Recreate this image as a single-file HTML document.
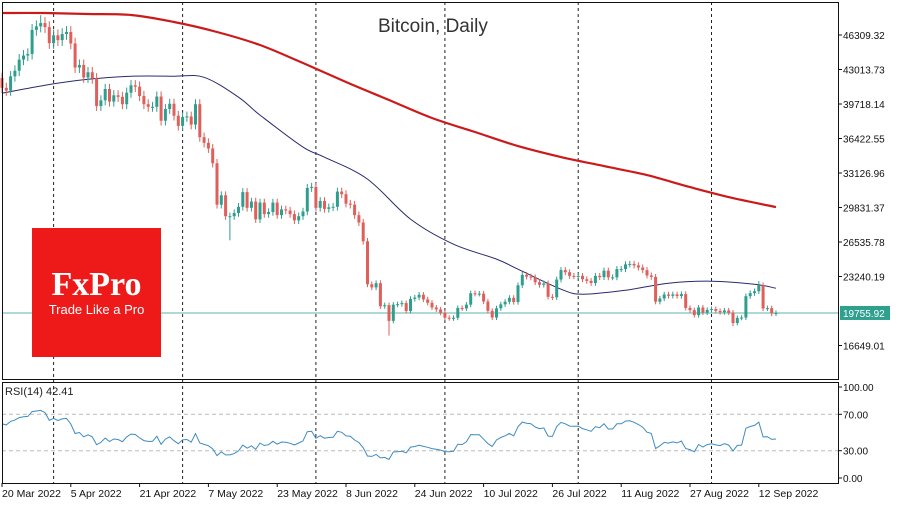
<!DOCTYPE html>
<html><head><meta charset="utf-8"><style>
body{margin:0;background:#fff;}
svg{display:block;font-family:"Liberation Sans",sans-serif;}
</style></head><body>
<svg id="c" width="900" height="506" viewBox="0 0 900 506">
  <rect x="0" y="0" width="900" height="506" fill="#fff"/>
  <g id="grid"></g>
  <g id="ma"></g>
  <g id="candles"></g>
  <g id="rsi"></g>
  <g id="axes"></g>
  <text x="378" y="32" font-size="19" fill="#333">Bitcoin, Daily</text>
  <g>
    <rect x="32" y="228" width="129" height="129" fill="#ee1a1a"/>
    <text x="96.5" y="295" text-anchor="middle" font-family="Liberation Serif,serif" font-weight="bold" font-size="34" fill="#fff">FxPro</text>
    <text x="96.5" y="314" text-anchor="middle" font-size="13" fill="#fff">Trade Like a Pro</text>
  </g>
  <text x="5" y="395" font-size="11" fill="#222">RSI(14) 42.41</text>
</svg>
<script>
// prior closes for RSI warm-up (Mar 6 - Mar 19)
const priorCloses=[38400,37990,38730,41940,39420,38730,38810,37780,39670,39280,41110,40920,41760,42200];
// daily closes 20 Mar 2022 .. 16 Sep 2022
const closes=[41260,41000,42360,42900,43960,44350,44500,46800,47130,47450,47060,45530,
46280,45820,46400,46600,45500,43200,43450,42250,42750,42160,39530,40070,41150,39950,40550,40400,39700,40800,41500,41370,40480,39700,39450,39450,40430,38120,39240,39740,38600,37630,
38470,38530,37750,39700,36550,36010,35470,34060,30100,31000,29000,29000,29300,29900,31300,29800,30400,28700,30300,29200,29400,30300,29100,29650,29540,29200,28600,29000,29450,31700,31800,
29800,30450,29700,29850,29900,31350,31100,30200,30100,29100,28400,26600,22500,22200,22600,20400,20500,19000,20550,20600,20700,19950,21100,21230,21500,21050,20730,20280,20100,19780,
19300,19250,19300,20230,20190,20550,21640,21600,21600,20850,19960,19320,20200,20580,20830,21200,20800,22400,23400,23230,23160,22690,22450,22580,21300,21250,22950,23850,23650,23300,23270,
23300,22980,22820,22620,23300,23180,23800,23160,23160,23950,23950,24400,24440,24300,24100,23850,23340,23200,20830,21140,21520,21400,21530,21370,21560,20240,20030,19550,20280,19800,20050,
20130,19950,19830,20000,19800,18790,19290,19320,21360,21650,21830,22400,20180,20220,19700,19756];
// notable intraday lows/highs (day index -> value)
const lowDays=[53,90,170];
const lowVals=[26700,17600,18500];
const highDays=[9,176];
const highVals=[48200,22800];
// moving averages sampled from the chart
const ma50Days=[0,10,20,30,40,47,55,60,70,75,85,95,105,115,120,130,135,145,155,165,175,180];
const ma50Vals=[40750,41510,42080,42370,42370,42270,40370,38660,35600,34640,32540,28720,26330,24900,23940,22030,21550,21930,22600,22790,22500,22120];
const ma200Days=[0,10,20,30,40,50,60,70,80,90,100,110,120,130,140,150,160,170,180];
const ma200Vals=[48410,48410,48315,48220,47550,46600,45350,43630,41820,40100,38380,37040,35700,34650,33790,32930,31780,30730,29870];
const priceTicks=[46309.32,43013.73,39718.14,36422.55,33126.96,29831.37,26535.78,23240.19,16649.01];
const lastPrice=19755.92;
const rsiTicks=[100,70,30,0];
const dateLabels=["20 Mar 2022","5 Apr 2022","21 Apr 2022","7 May 2022","23 May 2022","8 Jun 2022","24 Jun 2022","10 Jul 2022","26 Jul 2022","11 Aug 2022","27 Aug 2022","12 Sep 2022"];
const dateDays=[0,16,32,48,64,80,96,112,128,144,160,176];
const monthDays=[12,42,73,103,134,165];

const NS="http://www.w3.org/2000/svg";
const X0=2,DX=4.3,R=838;
const xs=d=>X0+d*DX;
const yp=p=>35+(46309.32-p)*(34.5/3295.59);
const yr=v=>478-v*0.91;
function mk(t,a,parent){const e=document.createElementNS(NS,t);for(const k in a)e.setAttribute(k,a[k]);document.getElementById(parent).appendChild(e);return e;}

monthDays.forEach(d=>{
  const l=mk('line',{x1:xs(d),x2:xs(d),y1:2,y2:483,stroke:'#222','stroke-width':1,'stroke-dasharray':'3,3'},'grid');
  
  
});
const cl=mk('line',{x1:2,x2:R,y1:yp(lastPrice),y2:yp(lastPrice),stroke:'#5fb3a8','stroke-width':1},'grid');



// smooth path (Catmull-Rom)
function maPath(days,vals){
  const P=days.map((d,i)=>[xs(d),yp(vals[i])]);
  let s='M'+P[0][0].toFixed(1)+','+P[0][1].toFixed(1);
  for(let i=0;i<P.length-1;i++){
    const p0=P[Math.max(0,i-1)],p1=P[i],p2=P[i+1],p3=P[Math.min(P.length-1,i+2)];
    const c1=[p1[0]+(p2[0]-p0[0])/6,p1[1]+(p2[1]-p0[1])/6];
    const c2=[p2[0]-(p3[0]-p1[0])/6,p2[1]-(p3[1]-p1[1])/6];
    s+=' C'+c1.map(v=>v.toFixed(1)).join(',')+' '+c2.map(v=>v.toFixed(1)).join(',')+' '+p2.map(v=>v.toFixed(1)).join(',');
  }
  return s;
}
const m2=mk('path',{d:maPath(ma200Days,ma200Vals),fill:'none',stroke:'#cc1a1a','stroke-width':2.2},'ma');


const m5=mk('path',{d:maPath(ma50Days,ma50Vals),fill:'none',stroke:'#2a2a6e','stroke-width':1},'ma');



closes.forEach((c,i)=>{
  const o=i?closes[i-1]:priorCloses[priorCloses.length-1];
  let hi=Math.max(o,c)*1.012, lo=Math.min(o,c)*0.988;
  const li=lowDays.indexOf(i); if(li>=0) lo=lowVals[li];
  const hiI=highDays.indexOf(i); if(hiI>=0) hi=highVals[hiI];
  const up=c>=o, col=up?'#2f9e8c':'#df5f5a';
  const x=xs(i);
  const w=mk('line',{x1:x,x2:x,y1:yp(hi),y2:yp(lo),stroke:col,'stroke-width':1},'candles');
  
  
  const top=yp(Math.max(o,c)),bot=yp(Math.min(o,c));
  const b=mk('rect',{x:x-1.5,y:top,width:3,height:Math.max(1,bot-top),fill:col},'candles');
  
  
});

const all=priorCloses.concat(closes);
let ag=0,al=0;const rsi=[];
for(let i=1;i<all.length;i++){
  const ch=all[i]-all[i-1],g=Math.max(ch,0),l=Math.max(-ch,0);
  if(i<=14){ag+=g/14;al+=l/14;}else{ag=(ag*13+g)/14;al=(al*13+l)/14;}
  if(i>=priorCloses.length){rsi.push(al===0?100:100-100/(1+ag/al));}
}
[70,30].forEach(v=>{
  const l=mk('line',{x1:2,x2:R,y1:yr(v),y2:yr(v),stroke:'#bbb','stroke-width':1,'stroke-dasharray':'4,3'},'rsi');
  
  
});
const rp=mk('path',{d:rsi.map((v,i)=>(i?'L':'M')+xs(i).toFixed(1)+','+yr(v).toFixed(1)).join(' '),fill:'none',stroke:'#3d8bc2','stroke-width':1},'rsi');



[[2,2,R-2,377],[2,382,R-2,101]].forEach((r,k)=>{
  const f=mk('rect',{x:r[0]+0.5,y:r[1]+0.5,width:r[2],height:r[3],fill:'none',stroke:'#111','stroke-width':1},'axes');
  
  
});
priceTicks.forEach(p=>{
  const y=yp(p);
  mk('line',{x1:R,x2:R+4,y1:y,y2:y,stroke:'#111'},'axes');
  const t=mk('text',{x:R+5,y:y+4,'font-size':10,fill:'#111'},'axes');
  t.textContent=p.toFixed(2);
  
  
});
const by=yp(lastPrice);
const bx=mk('rect',{x:R+2,y:by-7,width:50,height:14,fill:'#2fa08e'},'axes');


const bt=mk('text',{x:R+5,y:by+4,'font-size':10,fill:'#fff'},'axes');
bt.textContent=lastPrice.toFixed(2);


rsiTicks.forEach(v=>{
  const y=yr(v);
  mk('line',{x1:R,x2:R+4,y1:y,y2:y,stroke:'#111'},'axes');
  const t=mk('text',{x:R+5,y:y+4,'font-size':10,fill:'#111'},'axes');
  t.textContent=v.toFixed(2);
  
  
});
dateDays.forEach((d,i)=>{
  const x=xs(d);
  mk('line',{x1:x,x2:x,y1:483,y2:487,stroke:'#111'},'axes');
  const t=mk('text',{x:x,y:497,'font-size':10.5,fill:'#111'},'axes');
  t.textContent=dateLabels[i];
  
  
});
</script>
</body></html>
